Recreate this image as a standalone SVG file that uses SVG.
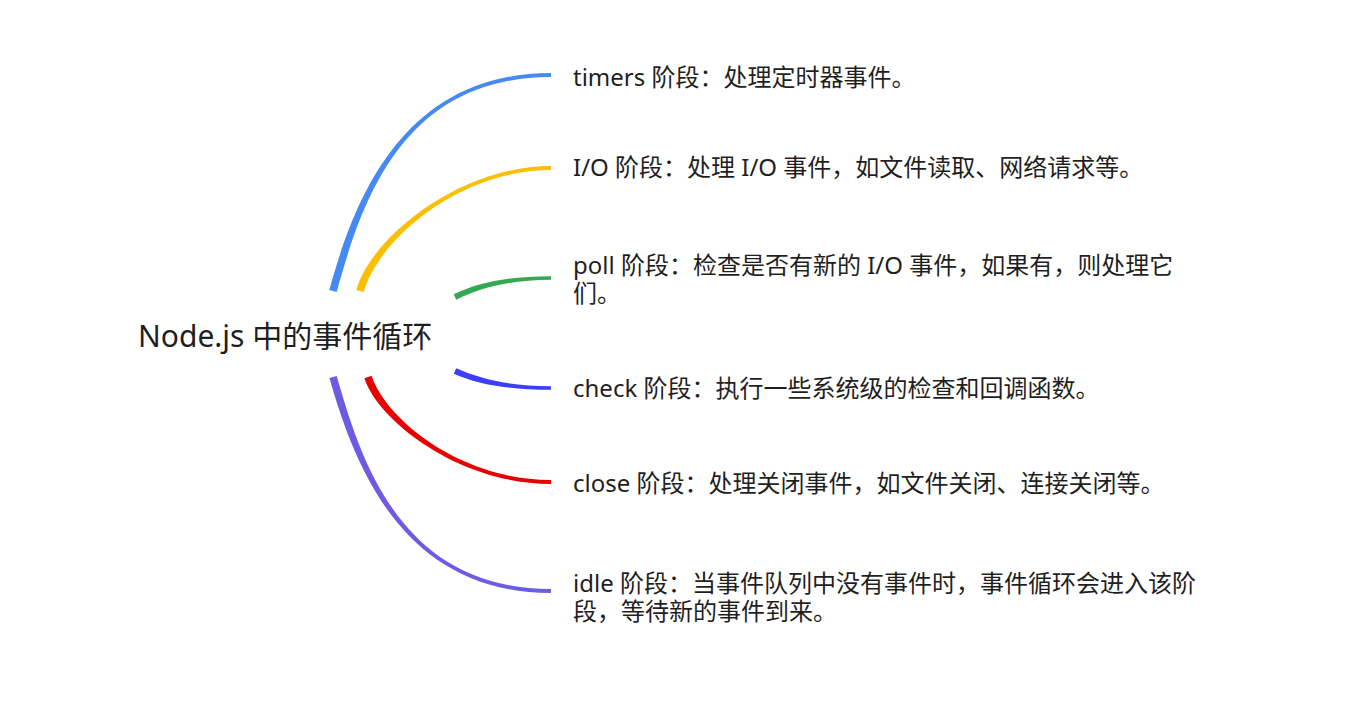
<svg xmlns="http://www.w3.org/2000/svg" width="1370" height="709" viewBox="0 0 1370 709">
  <style>
    .t { font-family: "Noto Sans", "Noto Sans CJK SC", sans-serif; font-size: 24px; fill: #1f1f1f; }
    .root { font-family: "Noto Sans", "Noto Sans CJK SC", sans-serif; font-size: 30px; fill: #1f1f1f; }
  </style>
  <rect width="1370" height="709" fill="#ffffff"/>
  <g id="connectors">
    <path fill="#4589f2" d="M336.7,292 C360.7,206 400,77 551,77 L551,73 C400,73 353.3,204 329.3,290 Z"/>
    <path fill="#fcbf00" d="M363.7,292 C378.7,239 460,170 551,170 L551,166 C460,166 371.3,237 356.3,290 Z"/>
    <path fill="#34a853" d="M456.3,299.7 C481.3,287.7 510,279.8 551,279.8 L551,276.2 C510,276.2 478.7,282.3 453.7,294.3 Z"/>
    <path fill="#3d3dfd" d="M453.8,373.7 C478.8,384.7 510,389.8 551,389.8 L551,386.2 C510,386.2 481.2,379.3 456.2,368.3 Z"/>
    <path fill="#e80000" d="M364.4,378.2 C378.4,421.2 460,484 551,484 L551,480 C460,480 385.6,418.8 371.6,375.8 Z"/>
    <path fill="#6d5be3" d="M329.4,378.1 C353.4,461.1 400,593 551,593 L551,589 C400,589 360.7,458.9 336.7,375.9 Z"/>
  </g>
  <g id="root">
    <text class="root" x="138" y="347">Node.js 中的事件循环</text>
  </g>
  <g id="timers">
    <text class="t" x="573" y="86">timers 阶段：处理定时器事件。</text>
  </g>
  <g id="io">
    <text class="t" x="573" y="176">I/O 阶段：处理 I/O 事件，如文件读取、网络请求等。</text>
  </g>
  <g id="poll">
    <text class="t" x="573" y="274">poll 阶段：检查是否有新的 I/O 事件，如果有，则处理它</text>
    <text class="t" x="573" y="302">们。</text>
  </g>
  <g id="check">
    <text class="t" x="573" y="397">check 阶段：执行一些系统级的检查和回调函数。</text>
  </g>
  <g id="close">
    <text class="t" x="573" y="492">close 阶段：处理关闭事件，如文件关闭、连接关闭等。</text>
  </g>
  <g id="idle">
    <text class="t" x="573" y="592">idle 阶段：当事件队列中没有事件时，事件循环会进入该阶</text>
    <text class="t" x="573" y="620">段，等待新的事件到来。</text>
  </g>
</svg>
